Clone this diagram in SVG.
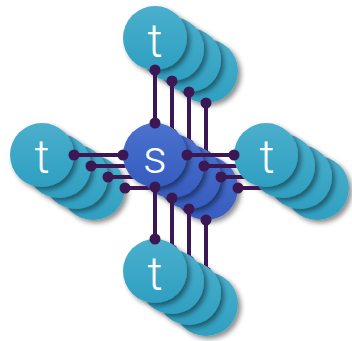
<svg xmlns="http://www.w3.org/2000/svg" xmlns:xlink="http://www.w3.org/1999/xlink" width="352" height="341" viewBox="0 0 352 341">
  <defs>
    <linearGradient id="gT" x1="0" y1="0" x2="0" y2="1">
      <stop offset="0" stop-color="#4aafcc"/>
      <stop offset="1" stop-color="#2f9fc1"/>
    </linearGradient>
    <linearGradient id="gS" x1="0" y1="0" x2="0" y2="1">
      <stop offset="0" stop-color="#4a72cf"/>
      <stop offset="1" stop-color="#365cbf"/>
    </linearGradient>
    <filter id="sh" x="-30%" y="-30%" width="170%" height="170%">
      <feDropShadow dx="3" dy="3" stdDeviation="2.5" flood-color="#000" flood-opacity="0.45"/>
    </filter>
    <g id="L0">
      <circle cx="155" cy="155" r="32"/><circle cx="155" cy="38" r="32"/><circle cx="155" cy="271" r="32"/><circle cx="42" cy="155" r="32"/><circle cx="266" cy="155" r="32"/>
    </g>
    <mask id="m1" maskUnits="userSpaceOnUse" x="0" y="0" width="352" height="341">
      <rect width="352" height="341" fill="#fff"/>
      <use xlink:href="#L0" fill="#000"/>
    </mask>
    <mask id="m2" maskUnits="userSpaceOnUse" x="0" y="0" width="352" height="341">
      <rect width="352" height="341" fill="#fff"/>
      <use xlink:href="#L0" fill="#000"/>
      <use xlink:href="#L0" fill="#000" transform="translate(17,11)"/>
    </mask>
    <mask id="m3" maskUnits="userSpaceOnUse" x="0" y="0" width="352" height="341">
      <rect width="352" height="341" fill="#fff"/>
      <use xlink:href="#L0" fill="#000"/>
      <use xlink:href="#L0" fill="#000" transform="translate(17,11)"/>
      <use xlink:href="#L0" fill="#000" transform="translate(34,22)"/>
    </mask>
    <g id="conn" stroke="#3b1853" stroke-width="4" fill="#3b1853">
      <line x1="155" y1="70" x2="155" y2="123"/>
      <line x1="155" y1="187" x2="155" y2="239"/>
      <line x1="74" y1="155" x2="123" y2="155"/>
      <line x1="187" y1="155" x2="234" y2="155"/>
      <g stroke="none">
        <circle cx="155" cy="70" r="5.5"/><circle cx="155" cy="123" r="5.5"/>
        <circle cx="155" cy="187" r="5.5"/><circle cx="155" cy="239" r="5.5"/>
        <circle cx="74" cy="155" r="5.5"/><circle cx="123" cy="155" r="5.5"/>
        <circle cx="187" cy="155" r="5.5"/><circle cx="234" cy="155" r="5.5"/>
      </g>
    </g>
  </defs>
  <style>
    .t circle { fill: url(#gT); filter: url(#sh); }
    .s circle { fill: url(#gS); filter: url(#sh); }
    .lbl { font-family: Roboto, "Liberation Sans", sans-serif; font-size: 47px; font-weight: 300; fill: #fff; text-anchor: middle; }
  </style>

  <g id="node-t-top" class="t">
    <circle cx="206" cy="71" r="32"/>
    <circle cx="189" cy="60" r="32"/>
    <circle cx="172" cy="49" r="32"/>
    <circle cx="155" cy="38" r="32"/>
    <text class="lbl" x="155" y="57">t</text>
  </g>
  <g id="node-t-left" class="t">
    <circle cx="93" cy="188" r="32"/>
    <circle cx="76" cy="177" r="32"/>
    <circle cx="59" cy="166" r="32"/>
    <circle cx="42" cy="155" r="32"/>
    <text class="lbl" x="42" y="173">t</text>
  </g>
  <g id="node-t-right" class="t">
    <circle cx="317" cy="188" r="32"/>
    <circle cx="300" cy="177" r="32"/>
    <circle cx="283" cy="166" r="32"/>
    <circle cx="266" cy="155" r="32"/>
    <text class="lbl" x="267" y="173">t</text>
  </g>
  <g id="node-t-bottom" class="t">
    <circle cx="206" cy="304" r="32"/>
    <circle cx="189" cy="293" r="32"/>
    <circle cx="172" cy="282" r="32"/>
    <circle cx="155" cy="271" r="32"/>
    <text class="lbl" x="155" y="290">t</text>
  </g>
  <g id="node-s" class="s">
    <circle cx="206" cy="188" r="32"/>
    <circle cx="189" cy="177" r="32"/>
    <circle cx="172" cy="166" r="32"/>
    <circle cx="155" cy="155" r="32"/>
    <text class="lbl" x="155" y="173">s</text>
  </g>

  <g id="connectors">
    <g mask="url(#m3)"><use xlink:href="#conn" transform="translate(51,33)"/></g>
    <g mask="url(#m2)"><use xlink:href="#conn" transform="translate(34,22)"/></g>
    <g mask="url(#m1)"><use xlink:href="#conn" transform="translate(17,11)"/></g>
    <use xlink:href="#conn"/>
  </g>
</svg>
